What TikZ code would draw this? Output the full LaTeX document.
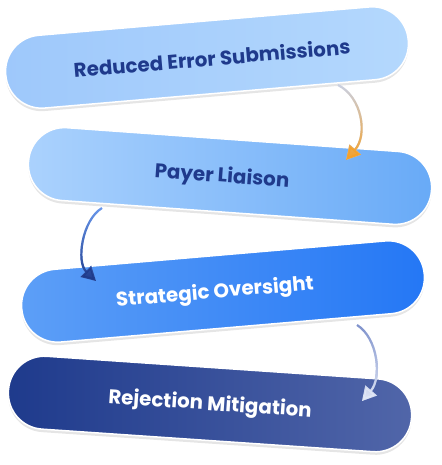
\documentclass[tikz,border=0pt]{standalone}
\usepackage{fontspec}
\setmainfont{Poppins}
\usetikzlibrary{arrows.meta,shadows,fadings}
\definecolor{navy}{HTML}{1F3A8C}
\definecolor{p1l}{HTML}{9EC8FB}
\definecolor{p1r}{HTML}{B4D8FD}
\definecolor{p2l}{HTML}{ABD2FD}
\definecolor{p2r}{HTML}{68AAF7}
\definecolor{p3l}{HTML}{5D9FF7}
\definecolor{p3r}{HTML}{2477F5}
\definecolor{p4l}{HTML}{1E3A8C}
\definecolor{p4r}{HTML}{5166A9}
\definecolor{orangeA}{HTML}{F5A028}
\definecolor{paleA}{HTML}{C9D1E4}
\definecolor{blueTop}{HTML}{6A98EC}
\definecolor{blueBot}{HTML}{1E3A8A}
\definecolor{greyTop}{HTML}{7F92CC}
\definecolor{greyBot}{HTML}{E2E8F6}
\tikzfading[name=lowhalf, top color=transparent!100, middle color=transparent!0, bottom color=transparent!0]
\begin{document}
\begin{tikzpicture}[x=1pt,y=-1pt,
  pill/.style={rectangle, rounded corners=36pt, minimum width=404pt,
    minimum height=73pt, inner sep=0pt, draw=white, line width=1.5pt,
    drop shadow={shadow xshift=0pt, shadow yshift=-3pt, opacity=0.10, fill=black}},
  pilltext/.style={font=\bfseries\fontsize{19.8}{24}\selectfont, inner sep=0pt},
  flow/.style={line width=2.2pt, -{Triangle[length=14pt,width=15pt]}},
]
\useasboundingbox (0,0) rectangle (441,465);

% pills
\node[pill, left color=p1l, right color=p1r, rotate=4.9] (p1) at (207,57.5) {};
\node[pill, left color=p2l, right color=p2r, rotate=-4.1] (p2) at (230,176) {};
\node[pill, left color=p3l, right color=p3r, rotate=4.9] (p3) at (223,291.5) {};
\node[pill, left color=p4l, right color=p4r, rotate=-3.9] (p4) at (210,404) {};

% texts
\node[pilltext, text=navy, rotate=4.9] (t1) at (212,58) {Reduced Error Submissions};
\node[pilltext, text=navy, rotate=-4.1] (t2) at (222,177) {Payer Liaison};
\node[pilltext, text=white, rotate=4.9] (t3) at (215,293) {Strategic Oversight};
\node[pilltext, text=white, rotate=-3.9] (t4) at (210,405) {Rejection Mitigation};

% connector end points
\coordinate (a1s) at (338,85);
\coordinate (a1e) at (346,160);
\coordinate (a2s) at (102,208);
\coordinate (a2e) at (96,281);
\coordinate (a3s) at (357,325);
\coordinate (a3e) at (362,401);

% arrow 1
\draw[flow, color=paleA] (a1s) .. controls (362,97) and (368,135) .. (a1e);
\draw[flow, color=orangeA, path fading=lowhalf] (a1s) .. controls (362,97) and (368,135) .. (a1e);
% arrow 2
\draw[flow, color=blueTop] (a2s) .. controls (82,220) and (76,262) .. (a2e);
\draw[flow, color=blueBot, path fading=lowhalf] (a2s) .. controls (82,220) and (76,262) .. (a2e);
% arrow 3
\draw[flow, color=greyTop] (a3s) .. controls (378,338) and (382,378) .. (a3e);
\draw[flow, color=greyBot, path fading=lowhalf] (a3s) .. controls (378,338) and (382,378) .. (a3e);
\end{tikzpicture}
\end{document}
